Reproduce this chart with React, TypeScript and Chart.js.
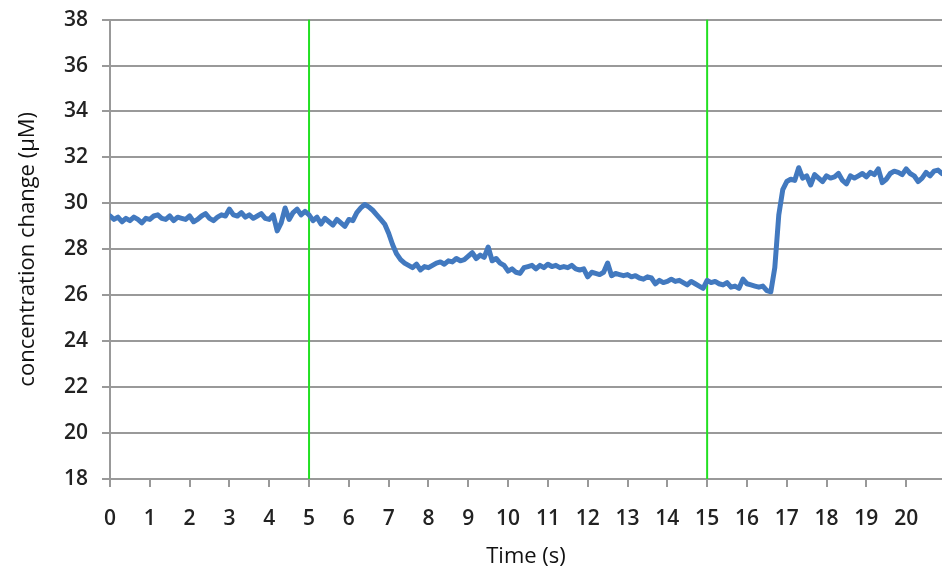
import React, { useEffect, useRef } from "react";
import { Chart, registerables } from "chart.js";

Chart.register(...registerables);

const START_TIME = 0;
const TIME_STEP = 0.1;
const concentration: number[] = [
  29.45, 29.3, 29.4, 29.2, 29.35, 29.25, 29.4, 29.3, 29.15, 29.35,
  29.3, 29.45, 29.5, 29.35, 29.3, 29.45, 29.25, 29.4, 29.35, 29.3,
  29.45, 29.2, 29.3, 29.45, 29.55, 29.35, 29.25, 29.4, 29.5, 29.45,
  29.75, 29.5, 29.45, 29.6, 29.4, 29.5, 29.35, 29.45, 29.55, 29.35,
  29.3, 29.5, 28.8, 29.15, 29.8, 29.3, 29.6, 29.75, 29.5, 29.65,
  29.5, 29.25, 29.4, 29.1, 29.35, 29.2, 29.05, 29.3, 29.15, 29.0,
  29.3, 29.25, 29.6, 29.8, 29.95, 29.85, 29.7, 29.5, 29.3, 29.1,
  28.7, 28.2, 27.8, 27.55, 27.4, 27.3, 27.2, 27.35, 27.1, 27.25,
  27.2, 27.3, 27.4, 27.45, 27.35, 27.5, 27.45, 27.6, 27.5, 27.55,
  27.7, 27.85, 27.6, 27.75, 27.65, 28.1, 27.5, 27.6, 27.4, 27.3,
  27.05, 27.15, 27.0, 26.95, 27.2, 27.25, 27.3, 27.15, 27.3, 27.2,
  27.35, 27.25, 27.3, 27.2, 27.25, 27.2, 27.3, 27.15, 27.1, 27.15,
  26.8, 27.0, 26.95, 26.9, 27.0, 27.4, 26.85, 26.95, 26.9, 26.85,
  26.9, 26.8, 26.85, 26.75, 26.7, 26.8, 26.75, 26.5, 26.65, 26.55,
  26.6, 26.7, 26.6, 26.65, 26.55, 26.45, 26.6, 26.5, 26.4, 26.3,
  26.65, 26.55, 26.6, 26.5, 26.45, 26.55, 26.35, 26.4, 26.3, 26.7,
  26.5, 26.45, 26.4, 26.35, 26.4, 26.2, 26.15, 27.2, 29.5, 30.6,
  30.95, 31.05, 31.0, 31.55, 31.1, 31.2, 30.8, 31.25, 31.1, 30.95,
  31.2, 31.1, 31.15, 31.3, 31.0, 30.85, 31.2, 31.1, 31.2, 31.3,
  31.15, 31.35, 31.25, 31.5, 30.9, 31.05, 31.3, 31.4, 31.35, 31.25,
  31.5, 31.3, 31.2, 30.95, 31.1, 31.35, 31.2, 31.4, 31.45, 31.3,
];
const markerTimes: number[] = [5, 15];
const yRange: number[] = [18, 38];
const xRange: number[] = [0, 20.9];
const xTitle = "Time (s)";
const yTitle = "concentration change (\u03bcM)";

const CANVAS_SHIFT = 7;

export default function App() {
  const ref = useRef<HTMLCanvasElement | null>(null);
  useEffect(() => {
    document.body.style.margin = "0";
    const canvas = ref.current;
    if (!canvas) return;
    const series = concentration.map((v, i) => ({ x: START_TIME + i * TIME_STEP, y: v }));
    const markers = markerTimes.map((t) => ({
      type: "line" as const,
      data: [
        { x: t, y: yRange[0] },
        { x: t, y: yRange[1] },
      ],
      borderColor: "#22e022",
      borderWidth: 2,
      pointRadius: 0,
      order: 2,
    }));
    const tickFont = { family: "'Open Sans', sans-serif", size: 21, weight: "600" as const };
    const titleFont = { family: "'Open Sans', sans-serif", size: 22, weight: "normal" as const };
    const chart = new Chart(canvas, {
      type: "line",
      data: {
        datasets: [
          ...markers,
          {
            type: "line",
            data: series,
            borderColor: "#4279bf",
            borderWidth: 5,
            pointRadius: 0,
            tension: 0,
            borderJoinStyle: "round",
            borderCapStyle: "round",
            order: 1,
          },
        ],
      },
      options: {
        animation: false,
        responsive: false,
        maintainAspectRatio: false,
        layout: { padding: { top: 0, right: 0, left: 0, bottom: 0 } },
        plugins: { legend: { display: false }, tooltip: { enabled: false } },
        scales: {
          x: {
            type: "linear",
            min: xRange[0],
            max: xRange[1],
            afterFit: (s: any) => {
              s.height = 92;
            },
            ticks: {
              stepSize: 1,
              includeBounds: false,
              padding: 19,
              color: "#222",
              font: tickFont,
              maxRotation: 0,
              autoSkip: false,
            },
            grid: {
              drawOnChartArea: false,
              drawTicks: true,
              tickLength: 8,
              color: "#999",
              lineWidth: 2,
            },
            border: { display: true, color: "#999", width: 2 },
            title: {
              display: true,
              text: xTitle,
              color: "#111",
              font: titleFont,
              padding: { top: 0, bottom: 1 },
            },
          },
          y: {
            type: "linear",
            min: yRange[0],
            max: yRange[1],
            afterFit: (s: any) => {
              s.width = 110;
            },
            ticks: {
              stepSize: 2,
              padding: 14,
              color: "#222",
              font: tickFont,
            },
            grid: {
              drawTicks: true,
              tickLength: 8,
              color: "#999",
              lineWidth: 2,
            },
            border: { display: true, color: "#999", width: 2 },
            title: {
              display: true,
              text: yTitle,
              color: "#111",
              font: titleFont,
              padding: { top: 15, bottom: 0 },
            },
          },
        },
      },
    } as any);
    return () => chart.destroy();
  }, []);
  return (
    <div
      style={{
        position: "absolute",
        left: 0,
        top: 0,
        width: 942,
        height: 571,
        overflow: "hidden",
        background: "#fff",
      }}
    >
      <canvas
        ref={ref}
        width={942}
        height={571 + CANVAS_SHIFT}
        style={{ width: 942, height: 571 + CANVAS_SHIFT, display: "block", marginTop: -CANVAS_SHIFT }}
      />
    </div>
  );
}
